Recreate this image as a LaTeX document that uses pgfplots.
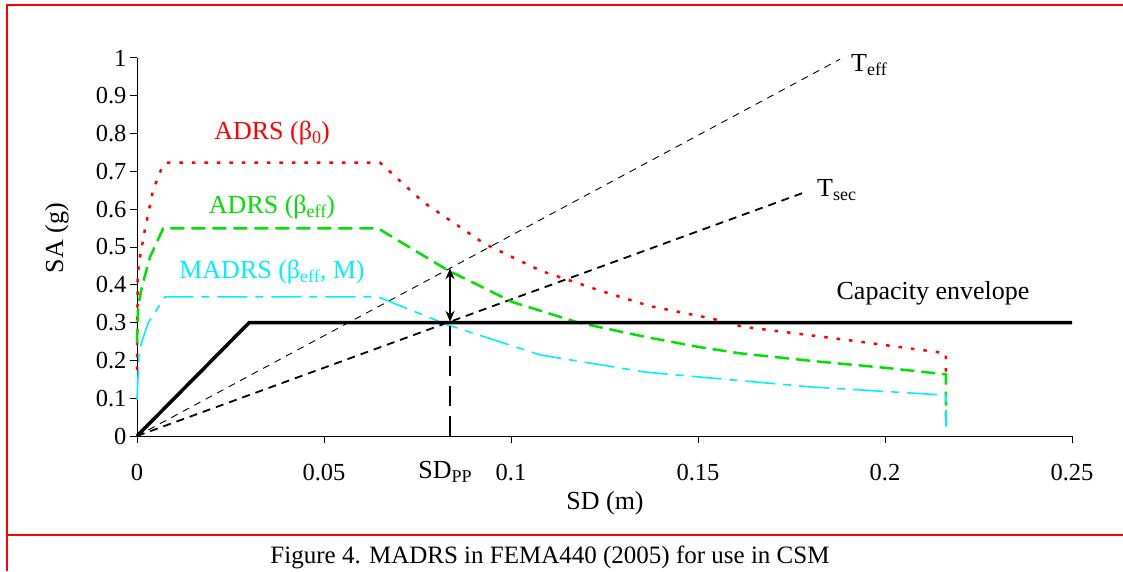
\documentclass[border=0pt]{standalone}
\usepackage{fontspec}
\setmainfont{Liberation Serif}
\usepackage{pgfplots}
\pgfplotsset{compat=1.18}
\usetikzlibrary{arrows.meta}
\definecolor{cgreen}{RGB}{0,225,0}
\definecolor{ccyan}{RGB}{0,240,255}
\newcommand{\sub}[1]{\raisebox{-0.32ex}{\fontsize{18}{20}\selectfont #1}}
\newcommand{\lbl}{\fontsize{26}{30}\selectfont}
\begin{document}
\begin{tikzpicture}[x=1pt,y=1pt]
\useasboundingbox (0,0) rectangle (1123,571);
\begin{axis}[
  at={(137pt,135pt)}, anchor=south west,
  scale only axis, width=935pt, height=378pt,
  xmin=0, xmax=0.25, ymin=0, ymax=1,
  axis lines*=left,
  axis line style={line width=1pt},
  tick align=outside, major tick length=7pt,
  tick style={line width=1pt, black},
  xtick={0,0.05,0.1,0.15,0.2,0.25},
  xticklabels={0,0.05,0.1,0.15,0.2,0.25},
  ytick={0,0.1,0.2,0.3,0.4,0.5,0.6,0.7,0.8,0.9,1},
  yticklabels={0,0.1,0.2,0.3,0.4,0.5,0.6,0.7,0.8,0.9,1},
  tick label style={font=\fontsize{24.5}{27}\selectfont},
  xticklabel style={yshift=-18pt},
  clip=false,
]
% Teff
\addplot[black, line width=0.9pt, dash pattern=on 7pt off 6pt] coordinates {(0,0) (0.188,0.997)};
% Tsec
\addplot[black, line width=1.8pt, dash pattern=on 8pt off 6pt] coordinates {(0,0) (0.1786,0.645)};
% ADRS beta0
\addplot[red, line width=2.5pt, dash pattern=on 3.5pt off 9pt] coordinates {
(0,0.175) (0.0002,0.43) (0.0008,0.474) (0.0021,0.545) (0.0043,0.65) (0.0066,0.709) (0.0079,0.723)
(0.065,0.723) (0.0765,0.619) (0.093,0.508) (0.108,0.437) (0.124,0.384) (0.137,0.344) (0.154,0.310)
(0.162,0.289) (0.186,0.259) (0.214,0.222) (0.2163,0.218) (0.2163,0.156)};
% ADRS beta eff
\addplot[cgreen, line width=2.5pt, dash pattern=on 14pt off 7pt] coordinates {
(0,0.246) (0.0003,0.342) (0.0013,0.395) (0.0035,0.474) (0.007,0.549)
(0.0645,0.549) (0.083,0.439) (0.1005,0.354) (0.118,0.30) (0.136,0.262) (0.1505,0.235)
(0.161,0.219) (0.18,0.199) (0.2005,0.18) (0.2163,0.163) (0.2163,0.05)};
% MADRS
\addplot[ccyan, line width=1.6pt, dash pattern=on 30pt off 8pt on 8pt off 8pt] coordinates {
(0,0.095) (0.0006,0.228) (0.003,0.30) (0.0062,0.349) (0.0075,0.368)
(0.0645,0.368) (0.083,0.294) (0.108,0.214) (0.136,0.169) (0.1505,0.156) (0.18,0.13) (0.2163,0.108) (0.2163,0.025)};
% capacity envelope
\addplot[black, line width=3.5pt] coordinates {(0,0) (0.030,0.3) (0.25,0.3)};
% SDpp vertical
\addplot[black, line width=2.8pt, dash pattern=on 20pt off 10pt] coordinates {(0.0837,0) (0.0837,0.3)};
% double arrow
\addplot[black, line width=2pt, {Stealth[length=11pt,width=9pt]}-{Stealth[length=11pt,width=9pt]}] coordinates {(0.0837,0.302) (0.0837,0.444)};
\end{axis}
% labels
\node[red, font=\lbl] at (272,438) {ADRS (β\sub{0})};
\node[cgreen, font=\lbl] at (272,364) {ADRS (β\sub{eff})};
\node[ccyan, font=\lbl] at (272,299) {MADRS (β\sub{eff}, M)};
\node[anchor=west, font=\lbl, inner sep=0pt] at (851,506) {T\sub{eff}};
\node[anchor=west, font=\lbl, inner sep=0pt] at (817,381) {T\sub{sec}};
\node[font=\lbl] at (933,278) {Capacity envelope};
\node[font=\lbl] at (445,99) {SD\sub{PP}};
\node[font=\lbl] at (605,68) {SD (m)};
\node[rotate=90, font=\lbl] at (57,333) {SA (g)};
\node[font=\fontsize{25}{28}\selectfont] at (550,14) {Figure 4. MADRS in FEMA440 (2005) for use in CSM};
% frame
\draw[red, line width=2pt] (7,0) -- (7,566) -- (1123,566);
\draw[red, line width=2pt] (7,36) -- (1123,36);
\end{tikzpicture}
\end{document}
